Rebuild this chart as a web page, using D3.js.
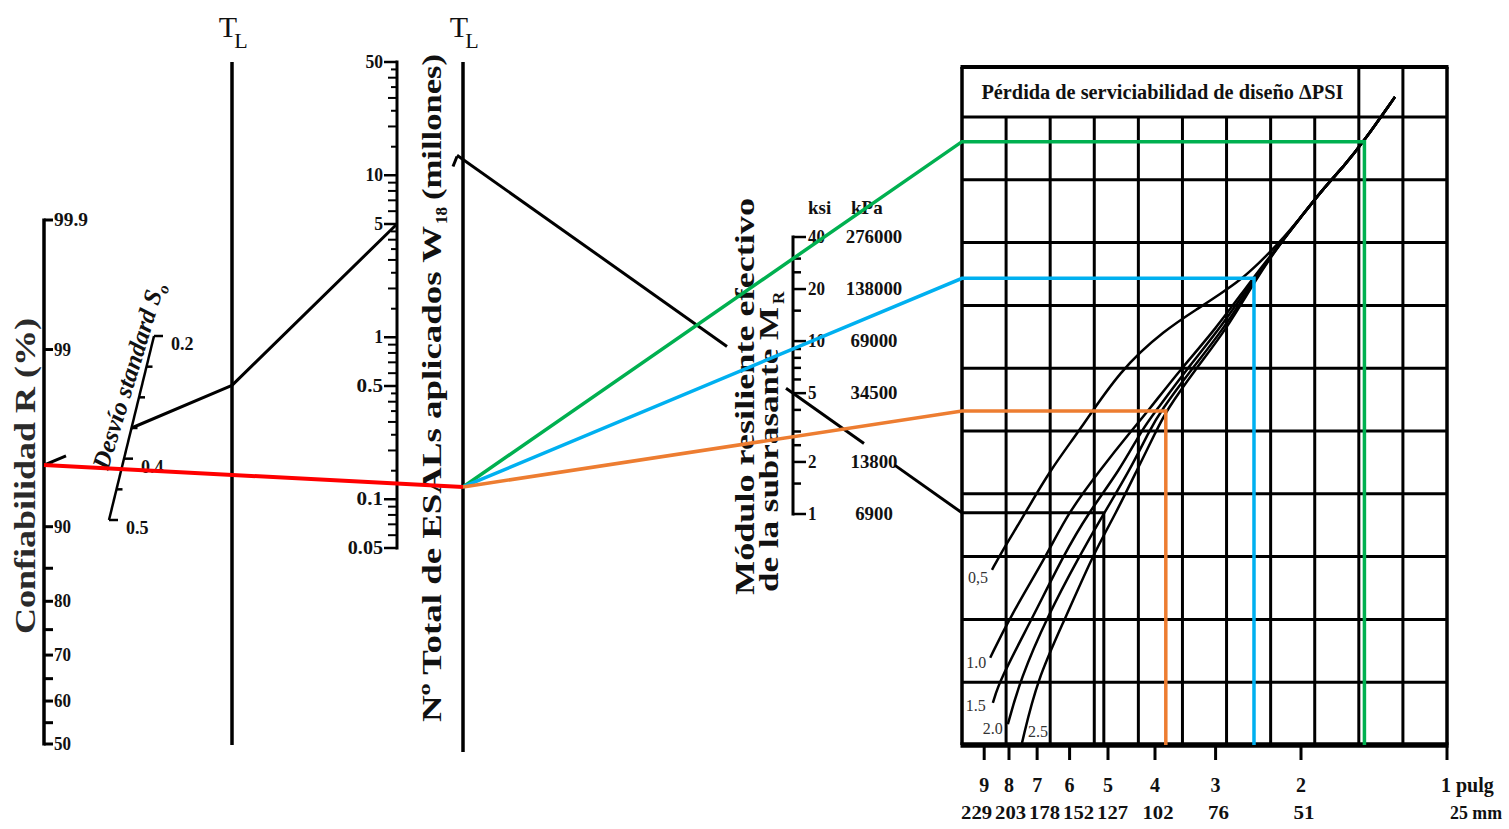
<!DOCTYPE html>
<html>
<head>
<meta charset="utf-8">
<script src="https://cdn.jsdelivr.net/npm/d3@7"></script>
<style>
  html, body { margin: 0; padding: 0; background: #fff; }
  svg { display: block; }
  text { font-family: "Liberation Serif", "Times New Roman", serif; fill: #111; }
</style>
</head>
<body>
<svg id="chart" width="1509" height="829"></svg>
<script>
const reliabilityLabels = [99.9, 99, 90, 80, 70, 60, 50];
const reliabilityMinor = [95, 85, 75, 65, 55];
const soTicks = [0.2, 0.25, 0.3, 0.35, 0.4, 0.45, 0.5];
const soLabels = [0.2, 0.4, 0.5];
const w18Labels = [50, 10, 5, 1, 0.5, 0.1, 0.05];
const w18Mantissas = [1, 1.5, 2, 2.5, 3, 3.5, 4, 4.5, 5, 6, 7, 8, 9];
const w18Decades = [0.01, 0.1, 1, 10];
const mrKsi = [40, 20, 10, 5, 2, 1];
const mrKpa = ["276000", "138000", "69000", "34500", "13800", "6900"];
const mrMinor = [30, 25, 15, 9, 8, 7, 6, 4, 3, 2.5, 1.5];
const thicknessIn = [9, 8, 7, 6, 5, 4, 3, 2, 1];
const thicknessMm = ["229", "203", "178", "152", "127", "102", "76", "51", "25"];
const psiLabels = ["0,5", "1.0", "1.5", "2.0", "2.5"];

// delta PSI curves, points in grid units [column, row]
const psiTail = [[8.17, 8.84], [8.69, 9.24], [9.10, 9.60], [9.82, 10.32]];
const psi05 = [[0.68, 2.79], [0.93, 3.11], [1.20, 3.42], [1.43, 3.69], [2.00, 4.38], [2.68, 5.02], [3.58, 5.97],
  [4.60, 6.61], [5.40, 6.97], [5.85, 7.18], [6.31, 7.40], [6.76, 7.69], [7.17, 7.98], [7.67, 8.39]];
const psi10 = [[0.64, 1.39], [1.09, 2.04], [1.93, 3.03], [2.40, 3.69], [3.13, 4.38], [3.86, 5.02], [4.22, 5.32],
  [4.94, 5.97], [5.74, 6.61], [6.58, 7.42], [7.21, 7.98], [7.67, 8.39]];
const psi15 = [[0.70, 0.67], [0.86, 1.04], [1.61, 2.04], [2.31, 3.03], [2.86, 3.69], [3.58, 4.38], [4.08, 5.02],
  [4.40, 5.32], [5.08, 5.97], [5.83, 6.61], [6.62, 7.42], [7.21, 7.98], [7.67, 8.39]];
const psi20 = [[1.04, 0.33], [1.32, 1.04], [1.93, 2.04], [2.68, 3.03], [3.22, 3.69], [3.81, 4.38], [4.26, 5.02],
  [4.51, 5.32], [5.19, 5.97], [5.92, 6.61], [6.65, 7.42], [7.21, 7.98], [7.67, 8.39]];
const psi25 = [[1.36, 0.03], [1.70, 1.04], [2.36, 2.04], [2.97, 3.03], [3.49, 3.69], [3.97, 4.38], [4.42, 5.02],
  [4.63, 5.32], [5.28, 5.97], [5.99, 6.61], [6.67, 7.42], [7.21, 7.98], [7.67, 8.39]];
const psiCurves = [psi05, psi10, psi15, psi20, psi25].map(c => c.concat(psiTail));

// printed example (black): R, So, W18 (millions), MR (ksi), thickness (in)
const exampleR = 95, exampleSo = 0.35, exampleW18 = 5, exampleMr = 5, exampleD = 5.1;
// drawn-over solution (red + coloured)
const userR = 95, userW18 = 0.125;
const userMr = [30, 9, 2.8];
const userD = [1.48, 2.5, 3.8];

// ---------- layout ----------
const L = {
  rX: 44, rTop: 220, rBottom: 744,
  soTop: [154, 336], soBottom: [109, 520],
  tl1X: 232, tl2X: 463, tlTop: 62,
  wX: 397, wTop: 62, wBottom: 548,
  mX: 793, mTop: 237, mBottom: 514,
  gLeft: 962, gRight: 1447, gTop: 67, gTitle: 117, gBottom: 745
};
const userColors = ["#00b050", "#00b0f0", "#ed7d31"];

// inverse normal cdf for the reliability scale
function probit(p) {
  const a = [-39.69683028665376, 220.9460984245205, -275.9285104469687, 138.3577518672690, -30.66479806614716, 2.506628277459239];
  const b = [-54.47609879822406, 161.5858368580409, -155.6989798598866, 66.80131188771972, -13.28068155288572];
  const c = [-0.007784894002430293, -0.3223964580411365, -2.400758277161838, -2.549732539343734, 4.374664141464968, 2.938163982698783];
  const d = [0.007784695709041462, 0.3224671290700398, 2.445134137142996, 3.754408661907416];
  let q, r;
  if (p < 0.02425) {
    q = Math.sqrt(-2 * Math.log(p));
    return (((((c[0]*q+c[1])*q+c[2])*q+c[3])*q+c[4])*q+c[5]) / ((((d[0]*q+d[1])*q+d[2])*q+d[3])*q+1);
  }
  if (p > 1 - 0.02425) {
    q = Math.sqrt(-2 * Math.log(1 - p));
    return -(((((c[0]*q+c[1])*q+c[2])*q+c[3])*q+c[4])*q+c[5]) / ((((d[0]*q+d[1])*q+d[2])*q+d[3])*q+1);
  }
  q = p - 0.5; r = q * q;
  return (((((a[0]*r+a[1])*r+a[2])*r+a[3])*r+a[4])*r+a[5])*q / (((((b[0]*r+b[1])*r+b[2])*r+b[3])*r+b[4])*r+1);
}

// ---------- scales ----------
const zScale = d3.scaleLinear().domain([0, probit(0.999)]).range([L.rBottom, L.rTop]);
const yR = v => zScale(probit(v / 100));
const soX = d3.scaleLinear().domain([0.2, 0.5]).range([L.soTop[0], L.soBottom[0]]);
const soY = d3.scaleLinear().domain([0.2, 0.5]).range([L.soTop[1], L.soBottom[1]]);
const yW = d3.scaleLog().domain([50, 0.05]).range([L.wTop, L.wBottom]);
const yM = d3.scaleLog().domain([40, 1]).range([L.mTop, L.mBottom]);
const xG = d3.scaleLinear().domain([0, 11]).range([L.gLeft, L.gRight]);
const yG = d3.scaleLinear().domain([0, 10]).range([L.gBottom, L.gTitle]);
const xD = d3.scaleLog().domain([10, 1]).range([L.gLeft, L.gRight]);

const svg = d3.select("#chart");
const line = d3.line();

function txt(g, x, y, s, o = {}) {
  return g.append("text").attr("x", x).attr("y", y)
    .attr("font-size", o.size || 15)
    .attr("font-weight", o.weight || "bold")
    .attr("text-anchor", o.anchor || "start")
    .text(s);
}
function vtext(x, y, s, size, len, weight) {
  const t = svg.append("text")
    .attr("transform", `translate(${x},${y}) rotate(-90)`)
    .attr("font-size", size).attr("font-weight", weight || "bold").text(s);
  if (len) t.attr("textLength", len).attr("lengthAdjust", "spacingAndGlyphs");
  return t;
}
function hline(g, x1, x2, y, w) {
  g.append("line").attr("x1", x1).attr("x2", x2).attr("y1", y).attr("y2", y).attr("stroke-width", w);
}
function vline(g, x, y1, y2, w) {
  g.append("line").attr("x1", x).attr("x2", x).attr("y1", y1).attr("y2", y2).attr("stroke-width", w);
}

//#region grid
const grid = svg.append("g").attr("stroke", "#000").attr("fill", "none");
d3.range(1, 11).forEach(r => hline(grid, xG(0), xG(11), yG(r), 3));
d3.range(1, 11).forEach(c => vline(grid, xG(c), yG(0), c >= 9 ? L.gTop : yG(10), 3));
hline(grid, L.gLeft - 1.5, L.gRight + 1.5, L.gTop, 4);
hline(grid, L.gLeft - 1.5, L.gRight + 1.5, L.gBottom, 5.5);
vline(grid, L.gLeft, L.gTop, L.gBottom, 3.5);
vline(grid, L.gRight, L.gTop, L.gBottom, 3.5);

txt(svg, (xG(0) + xG(9)) / 2 + 2, 99, "Pérdida de serviciabilidad de diseño ΔPSI", { size: 20, anchor: "middle" })
  .attr("textLength", 362).attr("lengthAdjust", "spacingAndGlyphs");

// thickness axis under the grid
const bottom = svg.append("g").attr("stroke", "#000");
thicknessIn.forEach(d => vline(bottom, xD(d), L.gBottom, L.gBottom + 15, 3));
thicknessIn.forEach((d, i) => {
  const last = i === thicknessIn.length - 1;
  txt(svg, last ? xD(d) - 6 : xD(d), 792, last ? d + " pulg" : String(d),
    { size: 20, anchor: last ? "start" : "middle" });
});
const mmX = thicknessIn.map(d => xD(d));
for (let k = 0; k < 60; k++) {
  for (let i = 0; i < mmX.length - 1; i++) {
    const gap = mmX[i + 1] - mmX[i];
    if (gap < 34) { const s = (34 - gap) / 2; mmX[i] -= s; mmX[i + 1] += s; }
  }
}
thicknessMm.forEach((m, i) => {
  const last = i === thicknessMm.length - 1;
  txt(svg, last ? xD(1) + 3 : mmX[i] + 3, 819, last ? m + " mm" : m,
    { size: 19, anchor: last ? "start" : "middle" })
    .attr("textLength", last ? 52 : (m.length > 2 ? 31 : 21)).attr("lengthAdjust", "spacingAndGlyphs");
});
//#endregion

//#region PSI curves
const curveLine = d3.line().x(d => xG(d[0])).y(d => yG(d[1])).curve(d3.curveBasis);
svg.append("g").selectAll("path").data(psiCurves).join("path")
  .attr("d", curveLine).attr("fill", "none").attr("stroke", "#000").attr("stroke-width", 2.5);
const psiLabelPos = [[-4, 13, "end"], [-4, 10, "end"], [-7, 8, "end"], [-5, 10, "end"], [6, -6, "start"]];
psiCurves.forEach((c, i) => {
  const p = psiLabelPos[i];
  txt(svg, xG(c[0][0]) + p[0], yG(c[0][1]) + p[1], psiLabels[i], { size: 16, weight: "normal", anchor: p[2] })
    .style("fill", "#333");
});
//#endregion

//#region reliability axis
const rAx = svg.append("g").attr("stroke", "#000");
vline(rAx, L.rX, yR(99.9) - 1.5, yR(50) + 1.5, 3.5);
reliabilityLabels.concat(reliabilityMinor).forEach(v => hline(rAx, L.rX, L.rX + 9, yR(v), 3));
reliabilityLabels.forEach(v => txt(svg, L.rX + 10, yR(v) + 6, String(v), { size: 18 })
  .attr("textLength", String(v).length * 8.5).attr("lengthAdjust", "spacingAndGlyphs"));
vtext(35, 634, "Confiabilidad R (%)", 30, 316).style("fill", "#2a2a2a");
//#endregion

//#region standard deviation So
const soAx = svg.append("g").attr("stroke", "#000");
soAx.append("line").attr("x1", soX(0.2)).attr("y1", soY(0.2)).attr("x2", soX(0.5)).attr("y2", soY(0.5)).attr("stroke-width", 2.5);
soTicks.forEach(v => hline(soAx, soX(v), soX(v) + (soLabels.includes(v) ? 9 : 6), soY(v), 2.5));
soLabels.forEach(v => txt(svg, soX(v) + 17, soY(v) + 14, String(v), { size: 18 }));
svg.append("text").attr("transform", "translate(108,471) rotate(-73)")
  .attr("font-size", 25).attr("font-weight", "bold").attr("font-style", "italic")
  .text("Desvío standard S")
  .append("tspan").attr("font-size", 16).attr("dy", 5).text("o");
//#endregion

//#region turning lines TL
const tl = svg.append("g").attr("stroke", "#000");
vline(tl, L.tl1X, L.tlTop, 745, 3.5);
vline(tl, L.tl2X, L.tlTop, 752, 3.5);
[L.tl1X, L.tl2X].forEach(x => {
  txt(svg, x - 4, 37, "T", { size: 30, weight: "normal", anchor: "middle" });
  txt(svg, x + 9, 48, "L", { size: 22, weight: "normal", anchor: "middle" });
});
//#endregion

//#region W18 axis
const wAx = svg.append("g").attr("stroke", "#000");
vline(wAx, L.wX, yW(50) - 1.5, yW(0.05) + 1.5, 3);
const w18Minor = w18Decades.flatMap(d => w18Mantissas.map(m => +(m * d).toPrecision(3)))
  .filter(v => v >= 0.05 && v <= 50 && !w18Labels.includes(v));
w18Labels.forEach(v => hline(wAx, L.wX - 13, L.wX, yW(v), 2.5));
w18Minor.forEach(v => {
  const len = Number.isInteger(+(v / Math.pow(10, Math.floor(Math.log10(v)))).toFixed(3)) ? 9 : 6;
  hline(wAx, L.wX - len, L.wX, yW(v), 2);
});
w18Labels.forEach(v => txt(svg, L.wX - 14, yW(v) + 6, String(v), { size: 19, anchor: "end" })
  .attr("textLength", String(v).length * 8.8).attr("lengthAdjust", "spacingAndGlyphs"));
vtext(441, 722, "Nº Total de ESALs aplicados W", 28, 496);
vtext(447, 224, "18", 17);
vtext(441, 200, "(millones)", 28, 146);
//#endregion

//#region MR axis
const mAx = svg.append("g").attr("stroke", "#000");
vline(mAx, L.mX, yM(40) - 1.5, yM(1) + 1.5, 3);
mrKsi.forEach(v => hline(mAx, L.mX, L.mX + 13, yM(v), 2.5));
mrMinor.forEach(v => hline(mAx, L.mX, L.mX + 8, yM(v), 2.5));
mrKsi.forEach((v, i) => {
  txt(svg, L.mX + 15, yM(v) + 6, String(v), { size: 19 })
    .attr("textLength", String(v).length * 8.5).attr("lengthAdjust", "spacingAndGlyphs");
  txt(svg, 874, yM(v) + 6, mrKpa[i], { size: 19, anchor: "middle" })
    .attr("textLength", mrKpa[i].length * 9.4).attr("lengthAdjust", "spacingAndGlyphs");
});
txt(svg, 808, 214, "ksi", { size: 19 });
txt(svg, 851, 214, "kPa", { size: 19 });
vtext(754, 595, "Módulo resiliente efectivo", 27, 397);
vtext(778, 592, "de la subrasante M", 27, 285);
vtext(784, 304, "R", 17);
//#endregion

//#region example solution (black)
const yOn = (p, q, x) => p[1] + (q[1] - p[1]) * (x - p[0]) / (q[0] - p[0]);
const seg = (p, q, x0, x1) => [[x0, yOn(p, q, x0)], [x1, yOn(p, q, x1)]];
const exR = [L.rX, yR(exampleR)];
const exSo = [soX(exampleSo), soY(exampleSo)];
const exTL1 = [L.tl1X, yOn(exR, exSo, L.tl1X)];
const exW = [L.wX, yW(exampleW18)];
const exTL2 = [L.tl2X, yOn(exTL1, exW, L.tl2X)];
const exM = [L.mX, yM(exampleMr)];
const exSN = [L.gLeft, yOn(exTL2, exM, L.gLeft)];
const blackPaths = [
  seg(exR, exSo, L.rX, L.rX + 22),
  [exSo, exTL1, exW],
  [[exTL2[0] - 10, exTL2[1] + 7], [exTL2[0] - 6, exTL2[1] - 3]],
  seg(exTL2, exM, L.tl2X - 6, 727),
  seg(exTL2, exM, 786, 864),
  seg(exTL2, exM, 895, L.gLeft),
  [exSN, [xD(exampleD), exSN[1]], [xD(exampleD), L.gBottom]]
];
svg.append("g").selectAll("path").data(blackPaths).join("path")
  .attr("d", line).attr("fill", "none").attr("stroke", "#000").attr("stroke-width", 3)
  .attr("stroke-linejoin", "round");
//#endregion

//#region drawn solution (red + coloured)
const usR = [L.rX, yR(userR)];
const usW = [L.wX, yW(userW18)];
const pivot = [L.tl2X, yOn(usR, usW, L.tl2X)];
const userPaths = userMr.map((m, i) => {
  const pm = [L.mX, yM(m)];
  const y = yOn(pivot, pm, L.gLeft);
  const x = xD(userD[i]);
  return [pivot, [L.gLeft, y], [x, y], [x, L.gBottom]];
});
svg.append("g").selectAll("path").data(userPaths).join("path")
  .attr("d", line).attr("fill", "none")
  .attr("stroke", (d, i) => userColors[i]).attr("stroke-width", 3.5);
svg.append("path").attr("d", line([usR, pivot]))
  .attr("fill", "none").attr("stroke", "#ff0000").attr("stroke-width", 4);
//#endregion
</script>
</body>
</html>
